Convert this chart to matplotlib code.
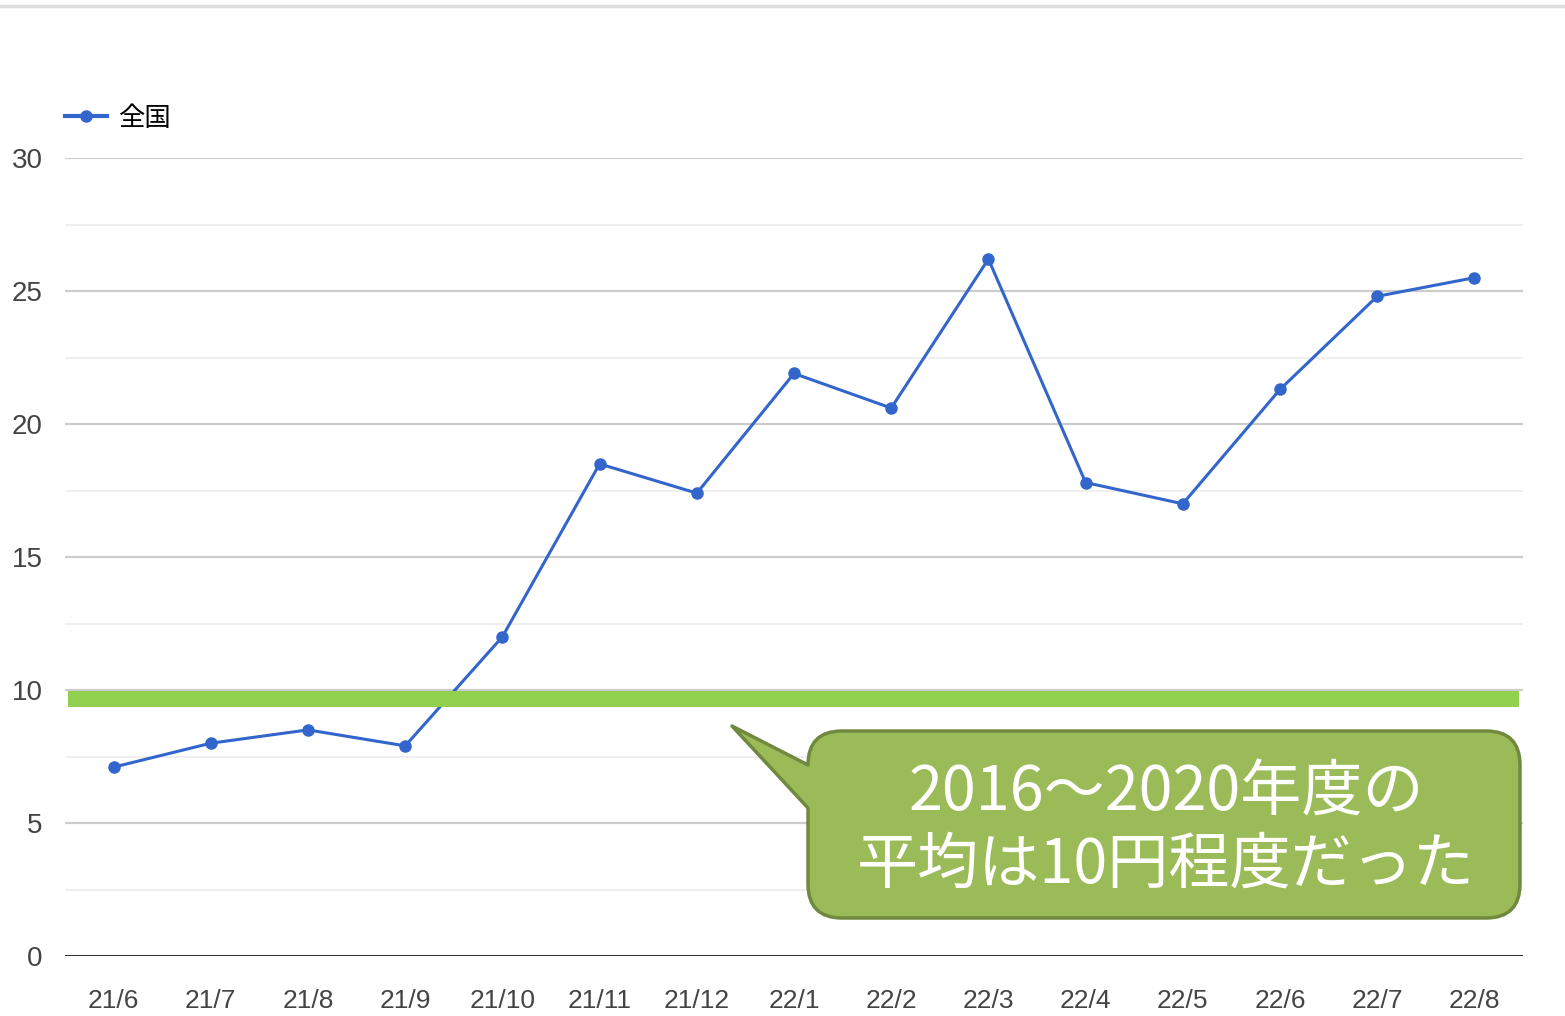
import matplotlib
matplotlib.use("Agg")
import matplotlib.pyplot as plt
from matplotlib.path import Path
from matplotlib.patches import PathPatch
from matplotlib.lines import Line2D

plt.rcParams['font.family'] = ['Noto Sans CJK JP', 'DejaVu Sans']

categories = ["21/6", "21/7", "21/8", "21/9", "21/10", "21/11", "21/12",
              "22/1", "22/2", "22/3", "22/4", "22/5", "22/6", "22/7", "22/8"]
values = [7.1, 8.0, 8.5, 7.9, 12.0, 18.5, 17.4, 21.9, 20.6, 26.2, 17.8, 17.0, 21.3, 24.8, 25.5]
series_name = "全国"
avg_value = 9.65
yticks = [0, 5, 10, 15, 20, 25, 30]
callout_text = "2016～2020年度の\n平均は10円程度だった"

W, H = 1565, 1016
fig = plt.figure(figsize=(W / 100, H / 100), dpi=100)
fig.patch.set_facecolor("white")

ax = fig.add_axes([65 / W, 1 - 956 / H, (1523 - 65) / W, (956 - 158) / H])
x = list(range(len(categories)))
ax.set_xlim(-0.5, len(categories) - 0.5)
ax.set_ylim(0, 30)

for s in ax.spines.values():
    s.set_visible(False)

# gridlines
for v in yticks[1:]:
    ax.axhline(v, color="#cccccc", lw=1.6, zorder=1)
for v in [2.5, 7.5, 12.5, 17.5, 22.5, 27.5]:
    ax.axhline(v, color="#ececec", lw=1.2, zorder=1)
ax.axhline(0, color="#333333", lw=2.2, zorder=2)

narrow = ['Liberation Sans Narrow', 'Liberation Sans', 'DejaVu Sans']
ax.set_yticks(yticks)
ax.set_yticklabels([str(v) for v in yticks], fontsize=20, color="#444444", family=narrow)
ax.set_xticks(x)
ax.set_xticklabels(categories, fontsize=19, color="#444444", family=narrow)
ax.tick_params(axis='both', length=0)
ax.tick_params(axis='y', pad=16)
ax.tick_params(axis='x', pad=24)

ax.plot(x, values, color="#3366cc", lw=2.2, marker='o', markersize=8, zorder=4)

ax.axhline(avg_value, xmin=3 / (1523 - 65), xmax=(1519 - 65) / (1523 - 65),
           color="#92d050", lw=11.5, zorder=5, solid_capstyle='butt')

# legend
leg_handle = Line2D([0], [0], color="#3366cc", lw=3, marker='o', markersize=8)
ax.legend([leg_handle], [series_name], loc='center left', bbox_to_anchor=(0.0, 1.050),
          frameon=False, handlelength=1.6, handletextpad=0.42,
          borderaxespad=0, borderpad=0, prop={'family': ['Noto Sans CJK JP'], 'size': 19})

# overlay in pixel coords
ov = fig.add_axes([0, 0, 1, 1], zorder=10)
ov.set_xlim(0, W)
ov.set_ylim(H, 0)
ov.axis('off')
ov.patch.set_alpha(0)

ov.plot([0, W], [6, 6], color="#dddddd", lw=2.5)

# callout path
L, R, T, B, r = 808, 1520, 731, 918, 34
verts = [
    (L, 765), (732, 726), (L, 808),
    (L, B - r), (L, B), (L + r, B),
    (R - r, B), (R, B), (R, B - r),
    (R, T + r), (R, T), (R - r, T),
    (L + r, T), (L, T), (L, T + r),
    (L, 765),
]
codes = [Path.MOVETO, Path.LINETO, Path.LINETO,
         Path.LINETO, Path.CURVE3, Path.CURVE3,
         Path.LINETO, Path.CURVE3, Path.CURVE3,
         Path.LINETO, Path.CURVE3, Path.CURVE3,
         Path.LINETO, Path.CURVE3, Path.CURVE3,
         Path.CLOSEPOLY]
ov.add_patch(PathPatch(Path(verts, codes), facecolor="#9bbb59", edgecolor="#71893f",
                       lw=2.5, joinstyle='round'))
ov.text((L + R) / 2 + 2, 829, callout_text, color="white", fontsize=44,
        ha='center', va='center', linespacing=1.2,
        family=['Noto Sans CJK JP', 'DejaVu Sans'])

fig.savefig("out.png", dpi=100, facecolor="white")
